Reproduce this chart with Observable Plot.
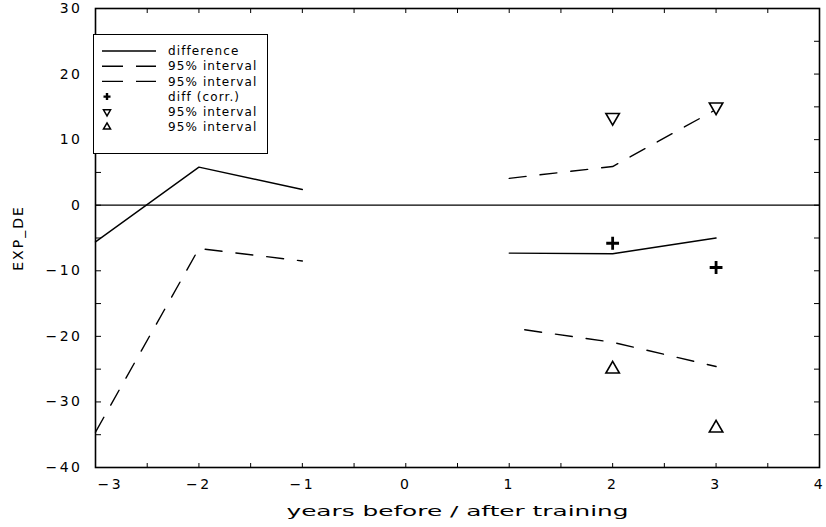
<!DOCTYPE html>
<html>
<head>
<meta charset="utf-8">
<script src="https://cdn.jsdelivr.net/npm/d3@7"></script>
<script src="https://cdn.jsdelivr.net/npm/@observablehq/plot@0.6"></script>
<style>
  html, body { margin: 0; padding: 0; background: white; }
  #wrap { position: relative; width: 826px; height: 527px; }
  g[aria-label="x-axis tick label"] text,
  g[aria-label="y-axis tick label"] text { letter-spacing: 2.5px; }
  g[aria-label="y-axis label"] text { letter-spacing: 2px; }
  #legend { position: absolute; left: 93px; top: 34px; width: 175px; height: 120px;
            border: 1.5px solid black; background: white; box-sizing: border-box; }
  #legend text { font-family: "DejaVu Sans", sans-serif; font-size: 12px; letter-spacing: 1.1px; }
</style>
</head>
<body>
<div id="wrap"></div>
<script>
// ---- data ----
const diffBefore = [{x: -3, y: -5.6}, {x: -2, y: 5.8}, {x: -1, y: 2.4}];
const diffAfter  = [{x: 1, y: -7.3}, {x: 2, y: -7.4}, {x: 3, y: -5.0}];
const lowerBefore = [{x: -3, y: -34.6}, {x: -2, y: -6.6}, {x: -1, y: -8.5}];
const upperAfter = [{x: 1, y: 4.1}, {x: 2, y: 5.9}, {x: 3, y: 14.6}];
const lowerAfter = [{x: 1.15, y: -19.0}, {x: 2, y: -20.9}, {x: 3, y: -24.6}];
const diffCorr = [{x: 2, y: -5.8}, {x: 3, y: -9.5}];
const upperCorr = [{x: 2, y: 13.4}, {x: 3, y: 15.0}];
const lowerCorr = [{x: 2, y: -25.0}, {x: 3, y: -34.0}];
const xLabelTicks = [-3, -2, -1, 0, 1, 2, 3, 4];
const xMinorTicks = [-3, -2.5, -2, -1.5, -1, -0.5, 0, 0.5, 1, 1.5, 2, 2.5, 3, 3.5, 4];
const yLabelTicks = [-40, -30, -20, -10, 0, 10, 20, 30];
const yMinorTicks = [-40, -35, -30, -25, -20, -15, -10, -5, 0, 5, 10, 15, 20, 25, 30];
const legendLabels = ["difference", "95% interval", "95% interval", "diff (corr.)", "95% interval", "95% interval"];

const dash = "17,14";
const lw = 1.4;
const none = () => "";
const fmt = d => d < 0 ? "\u2212" + Math.abs(d) : String(d);

const chart = Plot.plot({
  width: 826,
  height: 527,
  marginLeft: 95,
  marginRight: 7,
  marginTop: 8,
  marginBottom: 60,
  x: {domain: [-3, 4]},
  y: {domain: [-40, 30]},
  style: {fontFamily: "DejaVu Sans, sans-serif", fontSize: "14px", background: "white", color: "black", overflow: "visible"},
  marks: [
    Plot.ruleY([0], {stroke: "black", strokeWidth: 1.3}),
    Plot.line(diffBefore, {x: "x", y: "y", stroke: "black", strokeWidth: lw}),
    Plot.line(diffAfter, {x: "x", y: "y", stroke: "black", strokeWidth: lw}),
    Plot.line(lowerBefore, {x: "x", y: "y", stroke: "black", strokeWidth: lw, strokeDasharray: dash}),
    Plot.line(upperAfter, {x: "x", y: "y", stroke: "black", strokeWidth: lw, strokeDasharray: dash}),
    Plot.line(lowerAfter, {x: "x", y: "y", stroke: "black", strokeWidth: lw, strokeDasharray: dash}),
    Plot.dot(diffCorr, {x: "x", y: "y", symbol: "plus", fill: "none", stroke: "black", strokeWidth: 2.8, r: 4.2}),
    Plot.dot(upperCorr, {x: "x", y: "y", symbol: "triangle", rotate: 180, fill: "white", stroke: "black", strokeWidth: 1.6, r: 5}),
    Plot.dot(lowerCorr, {x: "x", y: "y", symbol: "triangle", fill: "white", stroke: "black", strokeWidth: 1.6, r: 5}),
    Plot.frame({stroke: "black", strokeWidth: 1.6}),
    // inward minor ticks on all four sides
    Plot.axisX(xMinorTicks, {anchor: "top", frameAnchor: "bottom", tickSize: 5, tickFormat: none, label: null}),
    Plot.axisX(xMinorTicks, {anchor: "bottom", frameAnchor: "top", tickSize: 5, tickFormat: none, label: null}),
    Plot.axisY(yMinorTicks, {anchor: "right", frameAnchor: "left", tickSize: 5, tickFormat: none, label: null}),
    Plot.axisY(yMinorTicks, {anchor: "left", frameAnchor: "right", tickSize: 5, tickFormat: none, label: null}),
    // labelled axes
    Plot.axisX(xLabelTicks, {anchor: "bottom", tickSize: 0, tickPadding: 12, tickFormat: fmt,
      label: "years before / after training", labelAnchor: "center", labelArrow: "none", labelOffset: 48}),
    Plot.axisY(yLabelTicks, {anchor: "left", tickSize: 0, tickPadding: 13, tickFormat: fmt,
      label: "EXP_DE", labelAnchor: "center", labelArrow: "none", labelOffset: 82})
  ]
});

const wrap = document.getElementById("wrap");
wrap.appendChild(chart);

// stretch the x-axis title to the wide lettering of the original
const svg = d3.select(chart);
svg.selectAll('g[aria-label="x-axis label"] text')
  .attr("font-size", 14.5)
  .attr("textLength", 342)
  .attr("lengthAdjust", "spacingAndGlyphs");
// the first x tick label sits just inside the left edge
svg.selectAll('g[aria-label="x-axis tick label"] text')
  .filter(function () { return this.textContent === "\u22123"; })
  .attr("text-anchor", "start")
  .attr("dx", 2);

// ---- legend box ----
const legend = d3.select(wrap).append("div").attr("id", "legend");
const ls = legend.append("svg").attr("width", 172).attr("height", 117);
const rowY = i => 16 + i * 15.2;
const kinds = ["solid", "dash", "dash", "plus", "down", "up"];
kinds.forEach((k, i) => {
  const y = rowY(i);
  if (k === "solid") {
    ls.append("line").attr("x1", 8).attr("x2", 62).attr("y1", y).attr("y2", y).attr("stroke", "black").attr("stroke-width", 1.4);
  } else if (k === "dash") {
    ls.append("line").attr("x1", 8).attr("x2", 62).attr("y1", y).attr("y2", y).attr("stroke", "black").attr("stroke-width", 1.4).attr("stroke-dasharray", "21,13");
  } else if (k === "plus") {
    ls.append("path").attr("d", "M-3.5,0H3.5M0,-3.5V3.5")
      .attr("transform", `translate(13,${y})`)
      .attr("fill", "none").attr("stroke", "black").attr("stroke-width", 2.4);
  } else {
    ls.append("path").attr("d", d3.symbol(d3.symbolTriangle2, 36)())
      .attr("transform", `translate(13,${y})` + (k === "down" ? " rotate(180)" : ""))
      .attr("fill", "white").attr("stroke", "black").attr("stroke-width", 1.5);
  }
  ls.append("text").attr("x", 74).attr("y", y).attr("dy", "0.35em").text(legendLabels[i]);
});
</script>
</body>
</html>
